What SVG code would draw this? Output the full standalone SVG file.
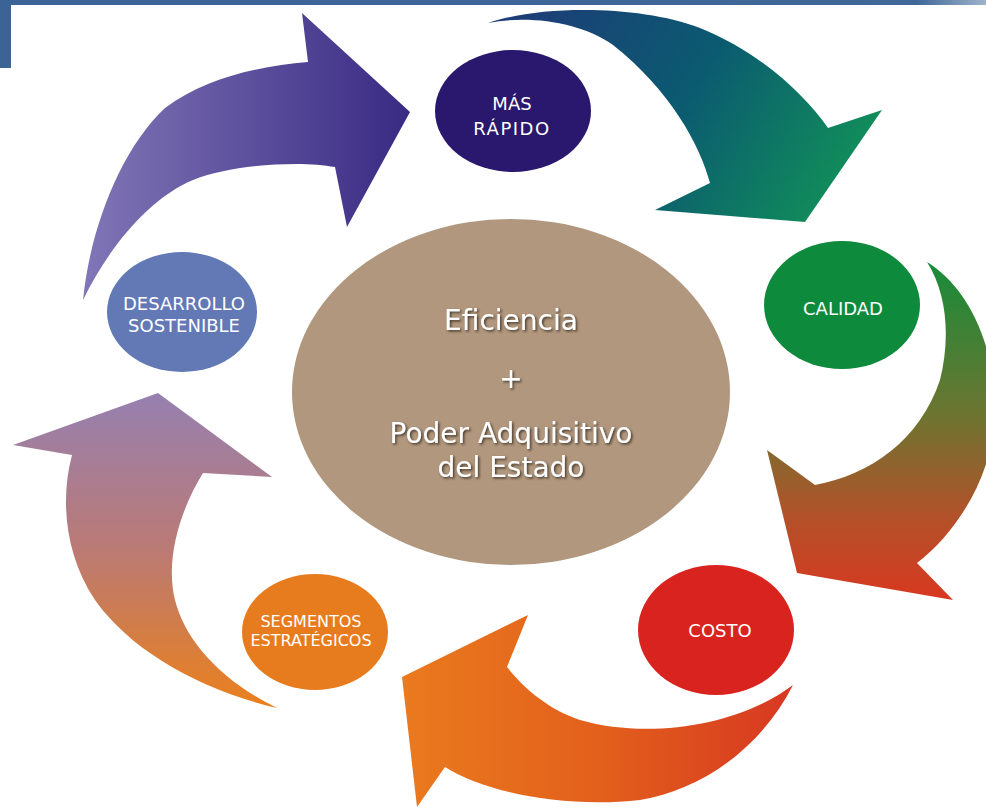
<svg xmlns="http://www.w3.org/2000/svg" width="986" height="808" viewBox="0 0 986 808">
<defs>
<style>
.lbl{font-family:"DejaVu Sans","Verdana",sans-serif;fill:#ffffff;text-anchor:middle}
.small{font-size:18px}
.big{font-size:28px}
</style>
<linearGradient id="gBar" x1="0" y1="0" x2="986" y2="0" gradientUnits="userSpaceOnUse">
<stop offset="0" stop-color="#3c6396"/><stop offset="0.93" stop-color="#3f6798"/><stop offset="1" stop-color="#9fb4cc"/>
</linearGradient>
<linearGradient id="g1" x1="83" y1="0" x2="410" y2="0" gradientUnits="userSpaceOnUse">
<stop offset="0" stop-color="#8176b6"/><stop offset="1" stop-color="#392a83"/>
</linearGradient>
<linearGradient id="g2" x1="500" y1="10" x2="850" y2="220" gradientUnits="userSpaceOnUse">
<stop offset="0" stop-color="#1f3a78"/><stop offset="0.5" stop-color="#0b5a70"/><stop offset="1" stop-color="#129457"/>
</linearGradient>
<linearGradient id="g3" x1="0" y1="262" x2="0" y2="600" gradientUnits="userSpaceOnUse">
<stop offset="0" stop-color="#178c3a"/><stop offset="0.45" stop-color="#6c7530"/><stop offset="0.75" stop-color="#b2522a"/><stop offset="1" stop-color="#d8381f"/>
</linearGradient>
<linearGradient id="g4" x1="402" y1="0" x2="793" y2="0" gradientUnits="userSpaceOnUse">
<stop offset="0" stop-color="#ea7a1e"/><stop offset="0.5" stop-color="#e2601c"/><stop offset="1" stop-color="#d73822"/>
</linearGradient>
<linearGradient id="g5" x1="0" y1="393" x2="0" y2="708" gradientUnits="userSpaceOnUse">
<stop offset="0" stop-color="#9680b0"/><stop offset="0.5" stop-color="#bb7a74"/><stop offset="1" stop-color="#ea801c"/>
</linearGradient>
<filter id="shadow" x="-10%" y="-30%" width="120%" height="160%">
<feDropShadow dx="1.5" dy="1.5" stdDeviation="0.8" flood-color="#2a2018" flood-opacity="0.8"/>
</filter>
</defs>
<rect x="0" y="0" width="986" height="808" fill="#ffffff"/>
<g id="frame">
<rect x="0" y="0" width="986" height="5" fill="url(#gBar)"/>
<rect x="0" y="0" width="11" height="68" fill="#3c6396"/>
</g>
<g id="connectors">
<path id="arrow-rapido" fill="url(#g1)" d="M83,300 C90,230 120,150 165,108 C205,78 260,66 308,62 L302,13 L410,112 L347,227 L335,167 C300,160 230,165 193,180 C150,198 110,245 83,300 Z"/>
<path id="arrow-calidad" fill="url(#g2)" d="M488,23 C540,5 640,5 700,28 C760,52 805,95 828,128 L882,110 L805,222 L655,210 L710,183 C700,145 670,90 613,45 C580,22 530,15 488,23 Z"/>
<path id="arrow-costo" fill="url(#g3)" d="M927,262 C965,285 995,340 995,410 C995,470 960,530 917,563 L953,600 L797,573 L767,450 L815,485 C870,475 920,440 940,380 C950,340 948,295 927,262 Z"/>
<path id="arrow-segmentos" fill="url(#g4)" d="M793,685 C740,725 650,740 580,720 C550,710 525,690 507,667 L528,615 L402,677 L417,807 L445,767 C490,795 570,808 640,800 C700,790 760,750 793,685 Z"/>
<path id="arrow-desarrollo" fill="url(#g5)" d="M277,708 C200,690 130,650 95,600 C65,555 60,500 72,455 L13,445 L158,393 L272,477 L203,473 C180,510 165,560 175,600 C185,640 220,680 277,708 Z"/>
</g>
<g id="node-center">
<ellipse cx="511" cy="392" rx="219" ry="173" fill="#b0977d"/>
<g filter="url(#shadow)">
<text class="lbl big" x="511" y="330">Eficiencia</text>
<text class="lbl big" x="511" y="388">+</text>
<text class="lbl big" x="511" y="443">Poder Adquisitivo</text>
<text class="lbl big" x="511" y="477">del Estado</text>
</g>
</g>
<g id="node-rapido">
<ellipse cx="513" cy="111" rx="78" ry="61" fill="#2a176e"/>
<text class="lbl small" x="512" y="110" font-size="19">MÁS</text>
<text class="lbl small" x="512" y="135" letter-spacing="1.5">RÁPIDO</text>
</g>
<g id="node-calidad">
<ellipse cx="842" cy="305" rx="78" ry="64" fill="#0e8a3c"/>
<text class="lbl small" x="843" y="315">CALIDAD</text>
</g>
<g id="node-costo">
<ellipse cx="716" cy="630" rx="78" ry="65" fill="#d9231e"/>
<text class="lbl small" x="720" y="637">COSTO</text>
</g>
<g id="node-segmentos">
<ellipse cx="315" cy="632" rx="73" ry="58" fill="#e77c1e"/>
<text class="lbl" font-size="16" x="311" y="627">SEGMENTOS</text>
<text class="lbl" font-size="16" x="311" y="646">ESTRATÉGICOS</text>
</g>
<g id="node-desarrollo">
<ellipse cx="182" cy="312" rx="75" ry="60" fill="#6279b5"/>
<text class="lbl small" x="184" y="310">DESARROLLO</text>
<text class="lbl small" x="184" y="332">SOSTENIBLE</text>
</g>
</svg>
